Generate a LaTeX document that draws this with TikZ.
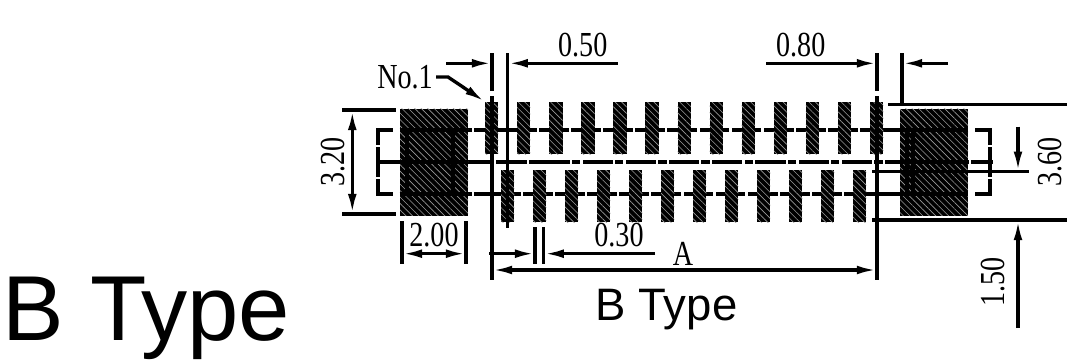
\documentclass[tikz,border=0pt]{standalone}
\usepackage{fontspec}
\setmainfont{Liberation Sans}
\newfontfamily\dimfont[FakeStretch=0.8]{Liberation Serif}
\usetikzlibrary{arrows.meta,patterns.meta}
\tikzset{
  hatched/.style={
    inner sep=0pt,
    shape=rectangle,
    preaction={fill=black},
    pattern={Lines[angle=135,distance=2.6pt,line width=.35pt]},
    pattern color=black!40,
  },
  pad/.style={hatched, minimum width=0.266cm, minimum height=1.04cm},
  land/.style={hatched, minimum width=1.36cm, minimum height=2.14cm},
  outline/.style={line width=1.9pt},
  dimline/.style={line width=1.9pt, >={Latex[length=11.5pt,width=5pt]}},
  gap/.style={white, line width=1.3pt},
  dimtext/.style={font=\dimfont\fontsize{20}{20}\selectfont, inner sep=0pt},
}
\begin{document}
\begin{tikzpicture}[x=0.02cm,y=-0.02cm]
  \useasboundingbox (0,0) rectangle (1067,359);
  % outline with its breaks
  \draw[outline] (378,130) rectangle (990,194);
  \draw[outline] (378,162) -- (993,162);
  \foreach \gx in {396.5,971} {
    \foreach \gy in {130,194} \draw[gap, line width=4pt] (\gx,\gy-2.5) -- (\gx,\gy+2.5);
  }
  \foreach \gy in {146,178} {
    \foreach \gx in {378,990} \draw[gap] (\gx-3,\gy) -- (\gx+3,\gy);
  }
  \foreach \i in {0,...,10} {
    \draw[gap] ({538+32.08*\i},128) -- ({538+32.08*\i},132);
    \draw[gap] ({522+32.08*\i},192) -- ({522+32.08*\i},196);
  }
  \draw[gap] (473,128) -- (473,132);
  \draw[gap] (473,192) -- (473,196);
  \foreach \gx in {495,527.7,970} \draw[gap] (\gx,160) -- (\gx,164);
  \foreach \i in {0,...,7} {
    \draw[gap] ({570.7+43.2*\i},160) -- ({570.7+43.2*\i},164);
    \draw[gap] ({581.4+43.2*\i},160) -- ({581.4+43.2*\i},164);
  }
  % pads and lands
  \foreach \i in {0,...,12} \node[pad] (top\i) at ({491.7+32.08*\i},128) {};
  \foreach \i in {0,...,11} \node[pad] (bot\i) at ({507.7+32*\i},196) {};
  \node[land] (landl) at (434,162.3) {};
  \node[land] (landr) at (934,162.3) {};
  \foreach \ly in {130,162,194} {
    \draw[outline] (landl.west |- 0,\ly) -- (landl.east |- 0,\ly);
    \draw[outline] (landr.west |- 0,\ly) -- (landr.east |- 0,\ly);
  }
  \draw[outline] (407,130) -- (407,194);
  \draw[outline] (453,130) -- (453,194);
  \draw[outline] (913,130) -- (913,194);
  \draw[outline] (907,130) -- (907,194);
  % witness lines
  \draw[dimline] (492,53) -- (492,91);
  \draw[dimline] (492,96) -- (492,280);
  \draw[dimline] (507.7,53) -- (507.7,228);
  \draw[dimline] (877,53) -- (877,91);
  \draw[dimline] (877,96) -- (877,280);
  \draw[dimline] (902,53) -- (902,104.3);
  \draw[dimline] (888,104.3) -- (1067,104.3);
  \draw[dimline] (872,171.7) -- (1029,171.7);
  \draw[dimline] (872,220) -- (1067,220);
  \draw[dimline] (342,110) -- (396,110);
  \draw[dimline] (342,214) -- (396,214);
  \draw[dimline] (402,221) -- (402,264);
  \draw[dimline] (466,221) -- (466,264);
  \draw[dimline] (535,227) -- (535,264);
  \draw[dimline] (543.7,227) -- (543.7,264);
  % arrows
  \draw[dimline,->] (446,63.3) -- (492,63.3);
  \draw[dimline,->] (617.7,63.3) -- (507.7,63.3);
  \draw[dimline,->] (766,63.3) -- (877,63.3);
  \draw[dimline,->] (948,63.3) -- (902,63.3);
  \draw[dimline,<->] (352.3,110) -- (352.3,214);
  \draw[dimline,<->] (402,253.7) -- (466,253.7);
  \draw[dimline,->] (489,253.7) -- (535,253.7);
  \draw[dimline,->] (655,253.7) -- (543.7,253.7);
  \draw[dimline,<->] (492,270) -- (877,270);
  \draw[dimline,->] (1018,126.7) -- (1018,171.7);
  \draw[dimline,->] (1018,328) -- (1018,220);
  % labels
  \node[dimtext] (lab050) at (582.7,45) {0.50};
  \node[dimtext] (lab080) at (800.7,45) {0.80};
  \node[dimtext] (lab030) at (619,235) {0.30};
  \node[dimtext] (lab200) at (434,235) {2.00};
  \node[dimtext] (laba) at (683,254) {A};
  \node[dimtext] (labno) at (405,77) {No.1};
  \node[dimtext, rotate=90] (lab320) at (333,162) {3.20};
  \node[dimtext, rotate=90] (lab360) at (1050,162) {3.60};
  \node[dimtext, rotate=90] (lab150) at (993,282) {1.50};
  \draw[dimline,->] (labno.east) ++(3,0) -- (448,77) -- (top0.north west);
  \node[font=\fontsize{25.9}{25.9}\selectfont, inner sep=0pt] (small) at (666.5,310) {B Type};
  \node[font=\fontsize{52.5}{52.5}\selectfont, inner sep=0pt] (big) at (146.5,318) {B Type};
\end{tikzpicture}
\end{document}
